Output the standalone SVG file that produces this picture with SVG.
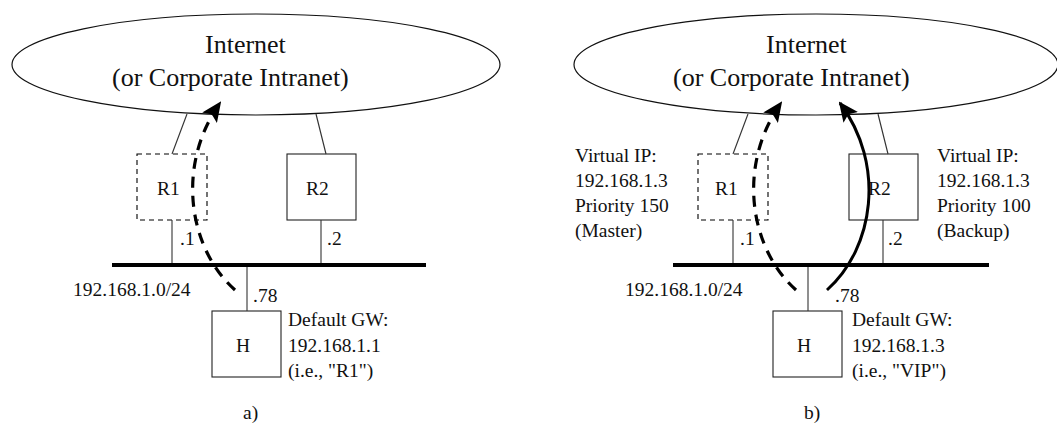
<svg xmlns="http://www.w3.org/2000/svg" width="1057" height="430" viewBox="0 0 1057 430">
<style>
text{font-family:"Liberation Serif","Times New Roman",serif;fill:#111;}
.big{font-size:26px;}
.sm{font-size:19.5px;}
.cloud{fill:none;stroke:#111;stroke-width:1.2;}
.box{fill:#fff;stroke:#222;stroke-width:1.1;}
.dbox{fill:none;stroke:#000;stroke-width:1.1;stroke-dasharray:5,4;}
.wire{stroke:#333;stroke-width:1.1;fill:none;}
.bus{stroke:#000;stroke-width:4;}
.flowd{fill:none;stroke:#000;stroke-width:3.2;stroke-dasharray:11,8;}
.flow{fill:none;stroke:#000;stroke-width:3;}
</style>
<defs>
<marker id="ahL" markerWidth="20" markerHeight="18" refX="18" refY="9" orient="auto" markerUnits="userSpaceOnUse" viewBox="0 0 20 18">
<path d="M0,0 L20,9 L0,18 L4,9 z" fill="#000"/>
</marker>
</defs>

<!-- Panel a -->
<g id="a-internet">
<ellipse class="cloud" cx="256" cy="64.5" rx="244" ry="50.5"/>
<text class="big" x="205" y="53">Internet</text>
<text class="big" x="112" y="86">(or Corporate Intranet)</text>
</g>
<g id="a-r1">
<rect class="dbox" x="137" y="154" width="70" height="66"/>
<text class="sm" x="157" y="195">R1</text>
</g>
<g id="a-r2">
<rect class="box" x="287" y="154" width="69" height="66"/>
<text class="sm" x="306" y="195">R2</text>
</g>
<g id="a-h">
<rect class="box" x="212" y="311" width="69" height="66"/>
<text class="sm" x="236" y="352">H</text>
</g>
<g id="a-labels">
<text class="sm" x="180" y="245">.1</text>
<text class="sm" x="327" y="245">.2</text>
<text class="sm" x="253" y="302">.78</text>
<text class="sm" x="73" y="296">192.168.1.0/24</text>
<text class="sm" x="288" y="326">Default GW:</text>
<text class="sm" x="288" y="352">192.168.1.1</text>
<text class="sm" x="288" y="377">(i.e., "R1")</text>
<text class="sm" x="243" y="419">a)</text>
</g>

<!-- Panel b -->
<g id="b-internet">
<ellipse class="cloud" cx="816" cy="64.5" rx="242" ry="50.5"/>
<text class="big" x="766" y="53">Internet</text>
<text class="big" x="673" y="86">(or Corporate Intranet)</text>
</g>
<g id="b-r1">
<rect class="dbox" x="698" y="154" width="70" height="66"/>
<text class="sm" x="715" y="195">R1</text>
</g>
<g id="b-r2">
<rect class="box" x="849" y="154" width="69" height="66"/>
<text class="sm" x="868" y="195">R2</text>
</g>
<g id="b-h">
<rect class="box" x="773" y="311" width="69" height="66"/>
<text class="sm" x="797" y="352">H</text>
</g>
<g id="b-labels">
<text class="sm" x="575" y="162">Virtual IP:</text>
<text class="sm" x="575" y="187">192.168.1.3</text>
<text class="sm" x="575" y="212">Priority 150</text>
<text class="sm" x="575" y="237">(Master)</text>
<text class="sm" x="937" y="162">Virtual IP:</text>
<text class="sm" x="937" y="187">192.168.1.3</text>
<text class="sm" x="937" y="212">Priority 100</text>
<text class="sm" x="937" y="237">(Backup)</text>
<text class="sm" x="740" y="245">.1</text>
<text class="sm" x="888" y="245">.2</text>
<text class="sm" x="835" y="302">.78</text>
<text class="sm" x="625" y="296">192.168.1.0/24</text>
<text class="sm" x="852" y="326">Default GW:</text>
<text class="sm" x="852" y="352">192.168.1.3</text>
<text class="sm" x="852" y="377">(i.e., "VIP")</text>
<text class="sm" x="804" y="419">b)</text>
</g>

<g id="connectors">
<!-- a -->
<line class="wire" x1="187" y1="114" x2="172" y2="154"/>
<line class="wire" x1="316" y1="114" x2="326" y2="154"/>
<line class="wire" x1="172" y1="220" x2="172" y2="265"/>
<line class="wire" x1="321" y1="220" x2="321" y2="265"/>
<line class="wire" x1="247" y1="265" x2="247" y2="311"/>
<line class="bus" x1="112" y1="265" x2="426" y2="265"/>
<path class="flowd" d="M235,290 C188,248 176,165 220,103" marker-end="url(#ahL)"/>
<!-- b -->
<line class="wire" x1="748" y1="114" x2="733" y2="154"/>
<line class="wire" x1="878" y1="114" x2="888" y2="154"/>
<line class="wire" x1="733" y1="220" x2="733" y2="265"/>
<line class="wire" x1="883" y1="220" x2="883" y2="265"/>
<line class="wire" x1="808" y1="265" x2="808" y2="311"/>
<line class="bus" x1="673" y1="265" x2="989" y2="265"/>
<path class="flowd" d="M796,290 C749,248 737,165 781,103" marker-end="url(#ahL)"/>
<path class="flow" d="M827,290 C874,248 886,165 840,103" marker-end="url(#ahL)"/>
</g>
</svg>
